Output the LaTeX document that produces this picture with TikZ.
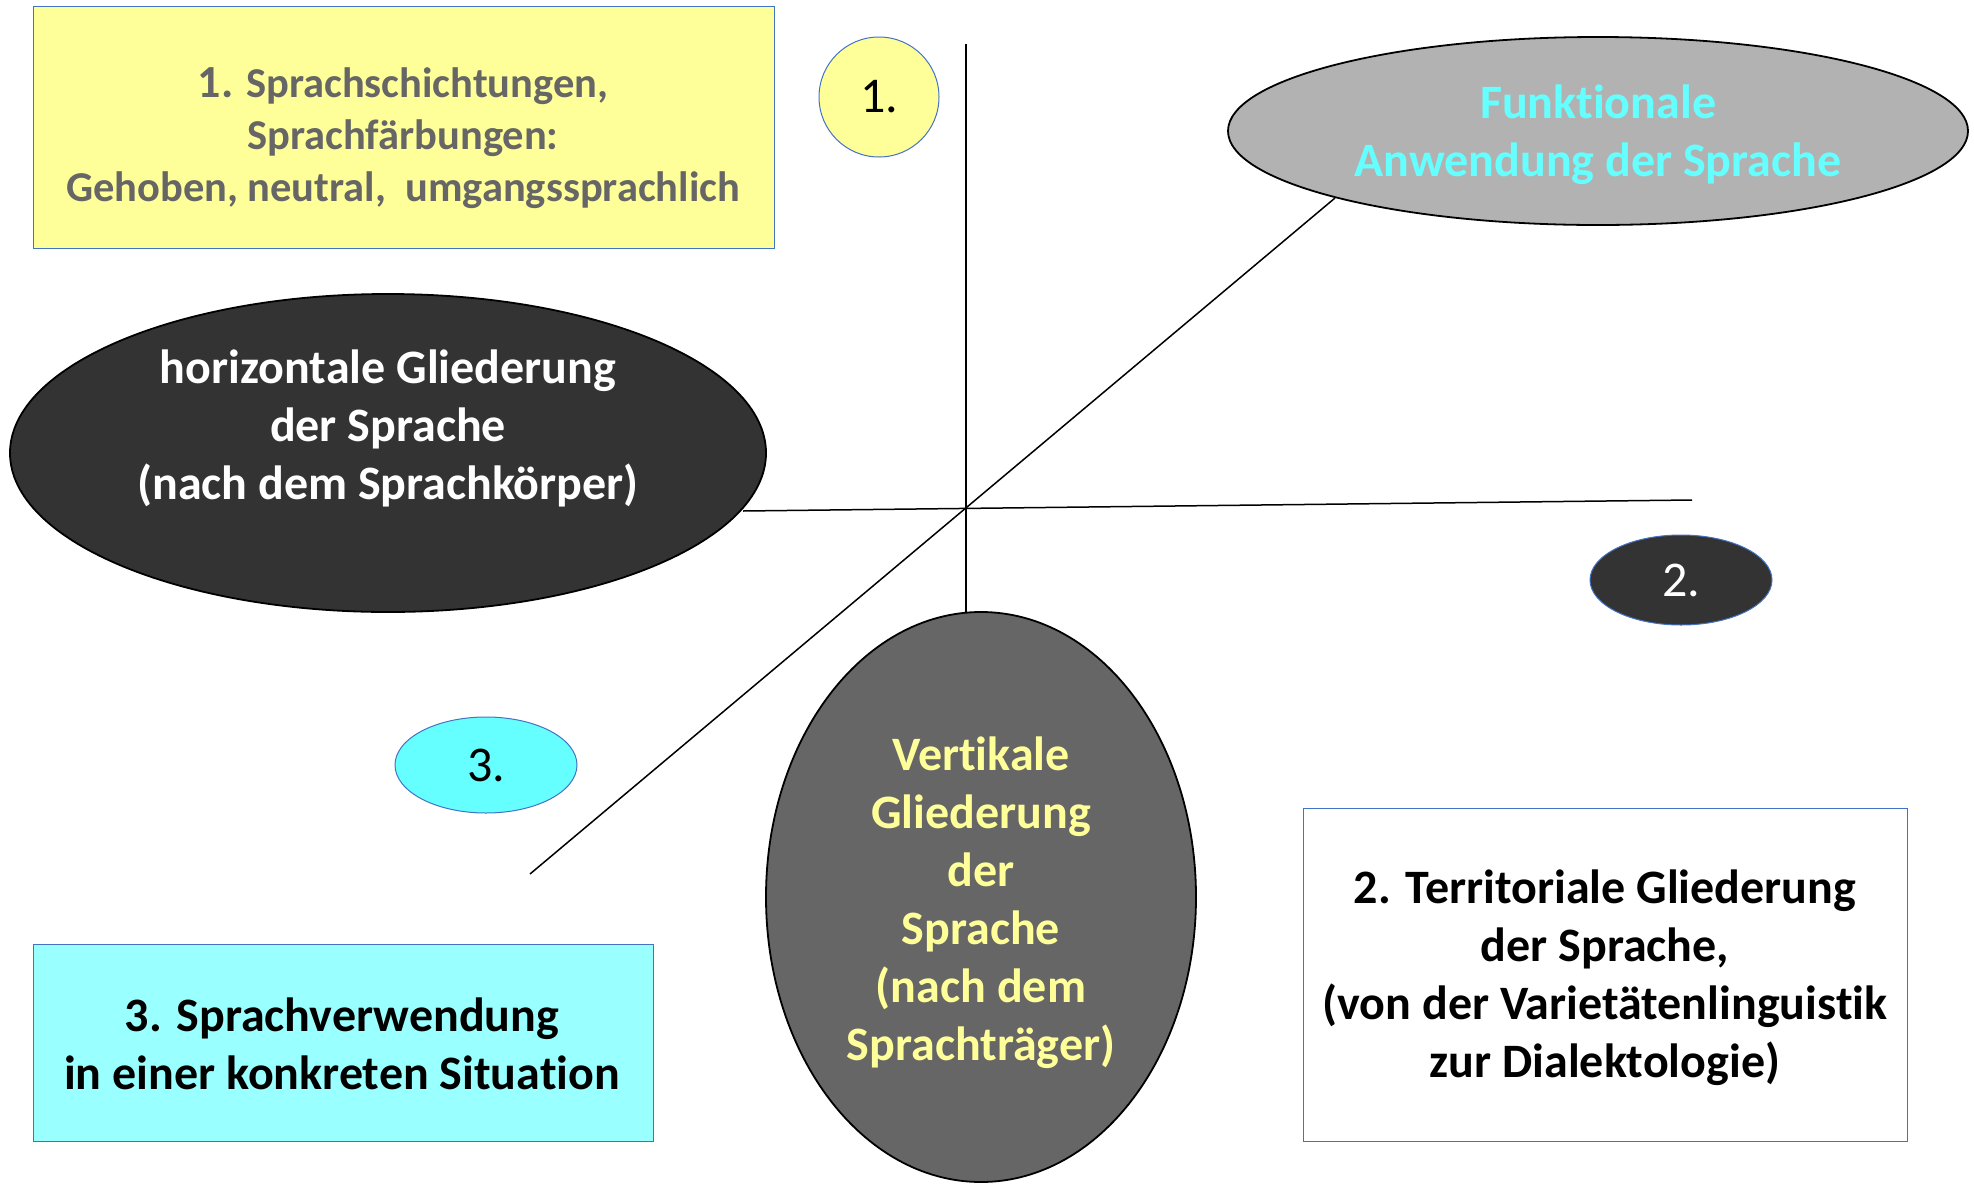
\documentclass[tikz,border=0pt]{standalone}
\usepackage{fontspec}
\setmainfont[Ligatures={NoCommon}]{Carlito}
\usetikzlibrary{shapes.geometric}
\definecolor{paleyellow}{HTML}{FFFF99}
\definecolor{palecyan}{HTML}{99FFFF}
\definecolor{brightcyan}{HTML}{66FFFF}
\definecolor{boxblue}{HTML}{4472C4}
\definecolor{darkfill}{HTML}{333333}
\definecolor{midfill}{HTML}{666666}
\definecolor{lightfill}{HTML}{B2B2B2}
\definecolor{graytext}{HTML}{666666}
\tikzset{
  infobox/.style={draw=boxblue, line width=1.2pt},
  bigell/.style={ellipse, draw=black, line width=1.8pt, inner sep=0pt},
  smallell/.style={ellipse, draw=boxblue, line width=1pt, inner sep=0pt},
  txt/.style={align=center, inner sep=0pt, font=\bfseries\fontsize{48}{58}\selectfont},
  numtxt/.style={inner sep=0pt, font=\fontsize{50}{50}\selectfont},
  axis/.style={draw=black, line width=1.5pt}
}
\begin{document}
\begin{tikzpicture}[x=1pt,y=-1pt]
\useasboundingbox (0,0) rectangle (1974,1184);
% boxes
\node[infobox, fill=paleyellow, minimum width=741pt, minimum height=242pt, anchor=north west, inner sep=0pt] (ybox) at (33,6) {};
\node[txt, text=graytext, font=\bfseries\fontsize{42.5}{52}\selectfont] (ytext) at (403,138) {{\fontsize{46}{52}\selectfont 1.} Sprachschichtungen,\\ Sprachfärbungen:\\ Gehoben, neutral,\ \ umgangssprachlich};
\node[infobox, fill=palecyan, minimum width=620pt, minimum height=197pt, anchor=north west, inner sep=0pt] (cbox) at (33,944) {};
\node[txt, text=black] (ctext) at (342,1044) {3. Sprachverwendung\\ in einer konkreten Situation};
\node[infobox, fill=white, minimum width=604pt, minimum height=333pt, anchor=north west, inner sep=0pt] (wbox) at (1303,808) {};
\node[txt, text=black] (wtext) at (1605,978) {2. Territoriale Gliederung\\ der Sprache,\\ (von der Varietätenlinguistik\\ zur Dialektologie)};
% lines
\coordinate (vtop) at (966,44);
\coordinate (vbot) at (966,612);
\coordinate (dtop) at (1335,198);
\coordinate (dbot) at (530,874);
\coordinate (hleft) at (743,511);
\coordinate (hright) at (1692,500);
\draw[axis] (vtop) -- (vbot);
\draw[axis] (dtop) -- (dbot);
\draw[axis] (hleft) -- (hright);
% ellipses
\node[bigell, fill=lightfill, minimum width=740pt, minimum height=188pt] (gell) at (1598,131) {};
\node[txt, text=brightcyan] (gtext) at (1598,135) {Funktionale\\ Anwendung der Sprache};
\node[bigell, fill=darkfill, minimum width=756pt, minimum height=318pt] (dell) at (388,453) {};
\node[txt, text=white] (dtext) at (388,428) {horizontale Gliederung\\ der Sprache\\ (nach dem Sprachkörper)};
\node[bigell, fill=midfill, minimum width=430pt, minimum height=570pt] (vell) at (981,897) {};
\node[txt, text=paleyellow] (vtext) at (981,903) {Vertikale\\ Gliederung\\ der\\ Sprache\\ (nach dem\\ Sprachträger)};
% number markers
\node[smallell, fill=paleyellow, minimum width=120pt, minimum height=120pt, text=black, numtxt] (n1) at (879,97) {1.};
\node[smallell, fill=darkfill, minimum width=182pt, minimum height=90pt, text=white, numtxt] (n2) at (1681,580) {2.};
\node[smallell, fill=brightcyan, minimum width=182pt, minimum height=96pt, text=black, numtxt] (n3) at (486,765) {3.};
\end{tikzpicture}
\end{document}
